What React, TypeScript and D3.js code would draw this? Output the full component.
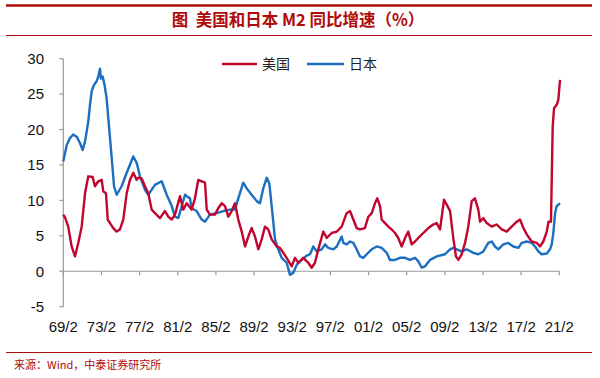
import React from "react";
import * as d3 from "d3";

// decimal year, value
const usYears = [1969.08,1969.26,1969.6,1969.96,1970.31,1970.65,1971.01,1971.36,1971.7,1972.16,1972.4,1972.75,1973.11,1973.27,1973.56,1973.74,1973.98,1974.32,1974.68,1975.02,1975.37,1975.73,1976.07,1976.42,1976.78,1976.94,1977.3,1977.65,1977.99,1978.35,1978.69,1979.22,1979.74,1980.09,1980.45,1980.79,1981.32,1981.66,1982.02,1982.54,1982.89,1983.23,1983.59,1983.94,1984.12,1984.46,1984.98,1985.33,1985.69,1986.04,1986.38,1986.74,1987.08,1987.43,1987.79,1988.14,1988.48,1988.83,1989.18,1989.53,1989.88,1990.23,1990.57,1990.93,1991.45,1991.8,1992.15,1992.5,1993.03,1993.38,1993.72,1994.24,1994.77,1995.12,1995.47,1995.82,1996.34,1996.7,1997.22,1997.75,1998.27,1998.79,1999.14,1999.49,1999.84,2000.19,2000.7,2001.06,2001.42,2001.76,2002.0,2002.29,2002.46,2002.81,2003.16,2003.51,2003.86,2004.2,2004.56,2004.91,2005.25,2005.61,2005.96,2006.3,2006.83,2007.35,2007.87,2008.23,2008.58,2009.0,2009.28,2009.63,2009.97,2010.25,2010.5,2010.85,2011.2,2011.54,2011.9,2012.24,2012.59,2012.77,2013.12,2013.47,2014.0,2014.52,2015.05,2015.57,2016.09,2016.62,2016.97,2017.32,2017.67,2018.19,2018.72,2019.06,2019.41,2019.77,2019.95,2020.21,2020.39,2020.53,2020.81,2020.98,2021.16];
const usValues = [8.0,7.6,6.3,3.5,2.1,4.0,6.3,11.0,13.4,13.3,12.0,12.7,12.9,11.3,11.0,7.3,6.8,6.1,5.6,5.9,7.3,11.0,12.9,13.9,12.9,13.2,13.1,12.0,11.0,8.7,8.2,7.5,8.5,7.7,7.3,8.0,10.6,8.7,9.6,8.7,10.3,12.9,12.7,12.5,8.7,8.0,8.0,8.9,9.6,9.2,7.7,8.5,9.6,7.3,5.6,3.5,4.9,6.1,4.9,3.1,4.5,6.3,5.9,4.5,3.5,3.3,2.6,1.9,0.7,1.9,1.2,1.9,1.2,0.5,1.2,3.1,5.6,4.7,5.4,5.6,6.3,8.2,8.5,7.3,6.1,5.9,6.1,7.7,8.2,9.6,10.3,9.2,7.3,6.8,6.3,5.9,5.4,4.7,3.5,4.7,5.6,3.8,4.2,4.7,5.4,6.1,6.6,6.8,5.9,10.1,9.4,8.5,4.7,2.1,1.6,2.4,4.0,6.3,9.9,10.3,8.7,7.0,7.5,6.8,6.3,6.6,5.9,5.6,6.3,7.0,7.3,6.1,5.2,4.2,4.0,3.5,4.2,5.6,7.0,7.0,20.4,23.0,23.5,24.2,27.0];

const jpYears = [1969.08,1969.44,1969.78,1970.13,1970.48,1970.83,1971.11,1971.36,1971.7,1971.88,1972.06,1972.23,1972.4,1972.58,1972.75,1972.93,1973.03,1973.21,1973.38,1973.63,1973.8,1973.98,1974.19,1974.4,1974.68,1975.2,1975.73,1976.42,1976.78,1977.12,1977.65,1977.99,1978.69,1979.4,1979.92,1980.45,1980.79,1981.14,1981.84,1982.02,1982.36,1982.54,1983.07,1983.59,1983.94,1984.46,1985.16,1985.86,1986.56,1987.08,1987.43,1987.95,1988.31,1988.83,1989.36,1989.7,1990.05,1990.41,1990.68,1990.93,1991.28,1991.62,1991.98,1992.5,1992.85,1993.2,1993.55,1994.08,1994.6,1994.95,1995.29,1995.65,1996.17,1996.52,1996.87,1997.39,1997.75,1998.27,1998.44,1998.79,1999.14,1999.49,1999.84,2000.19,2000.53,2000.89,2001.42,2001.94,2002.46,2002.99,2003.33,2003.86,2004.38,2004.91,2005.43,2005.96,2006.3,2006.66,2007.01,2007.53,2008.23,2009.1,2009.63,2009.97,2010.33,2010.85,2011.38,2012.07,2012.59,2013.12,2013.64,2014.0,2014.34,2014.69,2015.21,2015.74,2016.26,2016.79,2017.14,2017.67,2018.19,2018.54,2018.89,2019.24,2019.77,2020.11,2020.29,2020.46,2020.64,2020.81,2021.16];
const jpValues = [15.5,17.8,18.8,19.3,19.0,18.1,17.1,18.3,21.1,23.5,25.4,26.1,26.5,26.8,27.5,28.6,27.2,27.5,26.5,24.4,21.6,18.8,15.5,12.0,10.8,12.0,13.9,16.2,15.3,13.4,11.5,10.8,12.2,12.7,10.8,9.2,7.7,7.5,10.8,10.6,10.3,8.9,8.5,7.3,7.0,8.0,8.2,8.5,8.7,8.7,10.3,12.5,11.7,10.8,9.9,9.6,11.7,13.2,12.4,9.2,4.5,3.1,1.9,1.2,-0.5,-0.2,0.9,1.6,2.2,2.4,3.5,2.8,3.1,3.8,3.3,3.1,3.5,4.9,4.0,3.8,4.2,4.0,3.1,2.1,1.9,2.4,3.1,3.5,3.3,2.6,1.6,1.6,1.9,1.9,1.6,1.9,1.4,0.5,0.7,1.6,2.1,2.4,3.1,3.3,3.1,2.8,3.1,2.6,2.4,2.8,4.0,4.2,3.5,3.1,3.8,4.0,3.5,3.3,4.0,4.2,4.0,3.5,2.8,2.4,2.5,3.1,3.8,5.4,8.2,9.2,9.6];

const xTickYears = [1969,1973,1977,1981,1985,1989,1993,1997,2001,2005,2009,2013,2017,2021];
const yTicks = [-5,0,5,10,15,20,25,30];
const seriesNames = ["美国", "日本"];

const RED = "#C0062E";
const BLUE = "#1B6EC0";
const DARKRED = "#B00A0A";

export default function App() {
  const W = 600, H = 378;
  const x = d3.scaleLinear().domain([1969 + 1 / 12, 2021 + 1 / 12]).range([63.3, 559.3]);
  const y = d3.scaleLinear().domain([-5, 30]).range([306.7, 58.7]);
  const line = d3.line<[number, number]>().x(d => x(d[0])).y(d => y(d[1]));
  const us = usYears.map((t, i) => [t, usValues[i]] as [number, number]);
  const jp = jpYears.map((t, i) => [t, jpValues[i]] as [number, number]);
  const axisColor = "#9a9a9a";
  const font = "'Liberation Sans', Arial, sans-serif";
  const cjk = "'Noto Sans CJK SC', sans-serif";
  return (
    <svg width={W} height={H} style={{ position: "absolute", left: 0, top: 0, background: "#fff" }}>
      <rect width={W} height={H} fill="#fff" />
      <line x1={6} x2={592} y1={5.5} y2={5.5} stroke={DARKRED} strokeWidth={2.5} />
      <text x={298} y={26} textAnchor="middle" fontFamily={cjk} fontWeight="bold" fontSize={16.5} fill={DARKRED} style={{ whiteSpace: "pre" }}>
        {"图  美国和日本 M2 同比增速（%）"}
      </text>
      <line x1={6} x2={592} y1={35.5} y2={35.5} stroke={DARKRED} strokeWidth={1} />

      {/* y axis */}
      <line x1={x.range()[0]} x2={x.range()[0]} y1={y(30)} y2={y(-5)} stroke={axisColor} strokeWidth={1.2} />
      {yTicks.map(t => (
        <g key={t}>
          <line x1={x.range()[0] - 4} x2={x.range()[0]} y1={y(t)} y2={y(t)} stroke={axisColor} strokeWidth={1.2} />
          <text x={44} y={y(t)} dy="0.35em" textAnchor="end" fontFamily={font} fontSize={15} fill="#111">{t}</text>
        </g>
      ))}
      {/* x axis */}
      <line x1={x.range()[0]} x2={x.range()[1]} y1={y(0)} y2={y(0)} stroke={axisColor} strokeWidth={1.2} />
      {xTickYears.map(yr => {
        const xv = x(yr + 1 / 12);
        return (
          <g key={yr}>
            <line x1={xv} x2={xv} y1={y(0)} y2={y(0) + 4} stroke={axisColor} strokeWidth={1.2} />
            <text x={xv} y={327} dy="0.35em" textAnchor="middle" fontFamily={font} fontSize={15} fill="#111">
              {String(yr % 100).padStart(2, "0") + "/2"}
            </text>
          </g>
        );
      })}

      <path d={line(jp) || ""} fill="none" stroke={BLUE} strokeWidth={2.4} strokeLinejoin="round" />
      <path d={line(us) || ""} fill="none" stroke={RED} strokeWidth={2.4} strokeLinejoin="round" />

      {/* legend */}
      <line x1={222} x2={257} y1={64} y2={64} stroke={RED} strokeWidth={2.4} />
      <text x={262} y={64} dy="0.35em" fontFamily={cjk} fontSize={14} fill="#222">{seriesNames[0]}</text>
      <line x1={307} x2={344} y1={64} y2={64} stroke={BLUE} strokeWidth={2.4} />
      <text x={349} y={64} dy="0.35em" fontFamily={cjk} fontSize={14} fill="#222">{seriesNames[1]}</text>

      <line x1={6} x2={592} y1={352.5} y2={352.5} stroke={DARKRED} strokeWidth={1} />
      <text x={14} y={365} dy="0.35em" fontFamily={cjk} fontSize={11} fill={DARKRED}>来源：Wind，中泰证券研究所</text>
    </svg>
  );
}
